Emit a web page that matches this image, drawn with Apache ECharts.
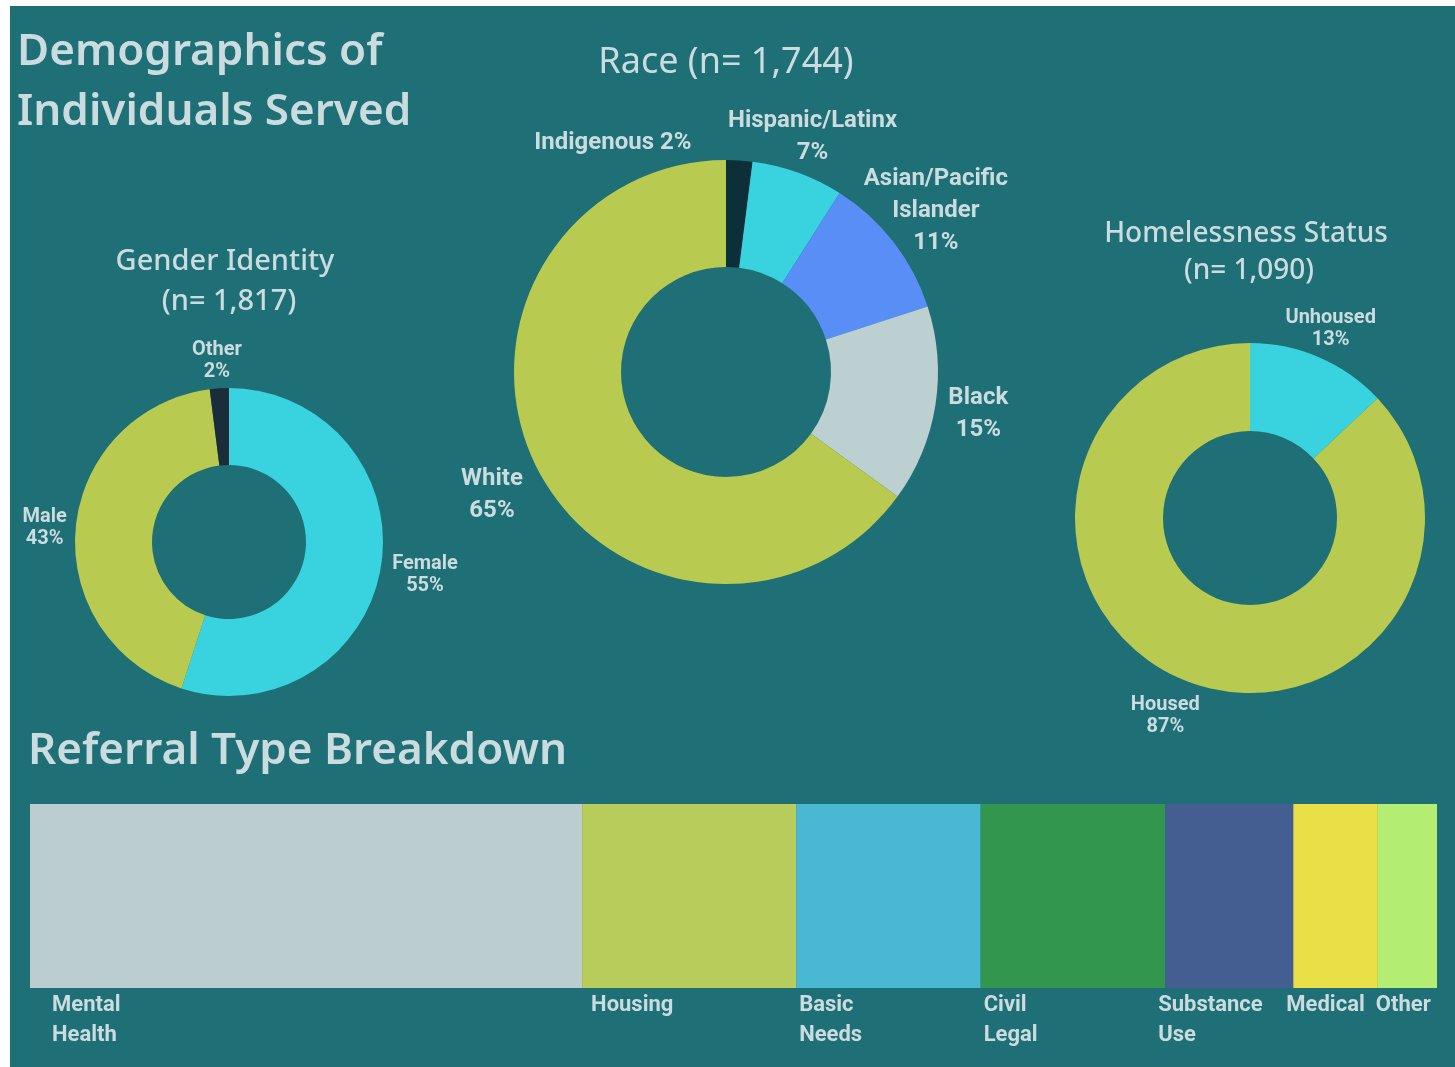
<!DOCTYPE html>
<html>
<head>
<meta charset="utf-8">
<title>Demographics of Individuals Served</title>
<script src="https://cdn.jsdelivr.net/npm/echarts@6/dist/echarts.min.js"></script>
<style>
  html, body { margin: 0; padding: 0; background: #ffffff; }
  #chart { width: 1455px; height: 1067px; }
</style>
</head>
<body>
<div id="chart"></div>
<script>
// gender identity (n = 1,817), percent of individuals
const genderNames = ['Female', 'Male', 'Other'];
const genderValues = [55, 43, 2];

// race (n = 1,744)
const raceNames = ['Indigenous', 'Hispanic/Latinx', 'Asian/Pacific Islander', 'Black', 'White'];
const raceValues = [2, 7, 11, 15, 65];

// homelessness status (n = 1,090)
const housingNames = ['Unhoused', 'Housed'];
const housingValues = [13, 87];

// referral type breakdown, share of referrals (%)
const referralTypes = ['Mental Health', 'Housing', 'Basic Needs', 'Civil Legal', 'Substance Use', 'Medical', 'Other'];
const referralShares = [39.2, 15.2, 13.1, 13.1, 9.1, 6.0, 4.2];

const BG = '#1f6f76';
const TEXT = '#cadcdf';
const LABEL_FONT = 'Roboto, "Noto Sans", sans-serif';
const TITLE_FONT = '"Noto Sans", "Open Sans", sans-serif';

const genderColors = ['#38d3df', '#b8cb50', '#1b2d3a'];
const raceColors = ['#0d2f3a', '#38d3df', '#5a8ef7', '#bccfd1', '#b8cb50'];
const housingColors = ['#38d3df', '#b8cb50'];
const referralColors = ['#bccdd0', '#b8cc5c', '#4ab8d4', '#32964f', '#445e92', '#ebdf47', '#b3ee72'];

const pctLabel = p => p.name === 'Indigenous'
  ? p.name + ' ' + p.value + '%'
  : p.name.replace('Pacific ', 'Pacific\n') + '\n' + p.value + '%';

// move each label from its default anchor by a small nudge, and center its lines
const nudgeLabels = nudges => p => {
  const r = p.labelRect;
  const n = nudges[p.dataIndex] || [0, 0];
  const anchor = p.align === 'right' ? r.x + r.width : (p.align === 'center' ? r.x + r.width / 2 : r.x);
  return {
    x: anchor + n[0],
    y: r.y + r.height / 2 + n[1],
    align: 'center',
    verticalAlign: 'middle'
  };
};

const donut = (names, values, colors, center, radius, fontSize, lineHeight, nudges) => ({
  type: 'pie',
  center: center,
  radius: radius,
  startAngle: 90,
  clockwise: true,
  avoidLabelOverlap: false,
  silent: true,
  data: names.map((n, i) => ({ name: n, value: values[i], itemStyle: { color: colors[i] } })),
  itemStyle: { borderWidth: 0 },
  label: {
    show: true,
    position: 'outside',
    formatter: pctLabel,
    color: TEXT,
    fontFamily: LABEL_FONT,
    fontWeight: 'bold',
    fontSize: fontSize,
    lineHeight: lineHeight
  },
  labelLine: { show: false, length: 8, length2: 0 },
  labelLayout: nudgeLabels(nudges)
});

const titleText = (text, x, y, size, weight, align) => ({
  type: 'text',
  x: x,
  y: y,
  silent: true,
  style: {
    text: text,
    fill: TEXT,
    font: weight + ' ' + size + 'px ' + TITLE_FONT,
    textAlign: align || 'center',
    textVerticalAlign: 'middle'
  }
});

const labelOffsets = [22, 9, 3, 3, -7, -7, -2];

const chart = echarts.init(document.getElementById('chart'));
chart.setOption({
  backgroundColor: '#ffffff',
  animation: false,
  graphic: [
    { type: 'rect', z: -10, silent: true, shape: { x: 10, y: 6, width: 1445, height: 1061 }, style: { fill: BG } },
    titleText('Demographics of', 17, 52, 44, 600, 'left'),
    titleText('Individuals Served', 17, 112, 44, 600, 'left'),
    titleText('Race (n= 1,744)', 726, 63, 36, 400),
    titleText('Gender Identity', 225, 262, 29, 500),
    titleText('(n= 1,817)', 229, 302, 29, 500),
    titleText('Homelessness Status', 1246, 234, 28, 500),
    titleText('(n= 1,090)', 1249, 271, 28, 500),
    titleText('Referral Type Breakdown', 28, 751, 44, 600, 'left')
  ],
  grid: { left: 30, right: 18, top: 804, height: 184 },
  xAxis: { type: 'value', min: 0, max: referralShares.reduce((a, b) => a + b, 0), show: false },
  yAxis: { type: 'category', data: ['Referrals'], show: false },
  series: [
    donut(genderNames, genderValues, genderColors, [229, 542], [77, 154], 20, 22,
      [[31, 8], [-18, 1], [3, -19]]),
    donut(raceNames, raceValues, raceColors, [726, 372], [105, 212], 24, 32,
      [[-132, -9], [7, -28], [31, -26], [30, 8], [-33, 23]]),
    donut(housingNames, housingValues, housingColors, [1250, 518], [87, 175], 20, 22,
      [[3, -21], [-7, 30]])
  ].concat(referralTypes.map((name, i) => ({
    type: 'bar',
    name: name,
    stack: 'referrals',
    barWidth: '100%',
    silent: true,
    data: [referralShares[i]],
    itemStyle: { color: referralColors[i] },
    label: {
      show: true,
      position: [labelOffsets[i], '100%'],
      distance: 0,
      align: 'left',
      verticalAlign: 'top',
      padding: [2, 0, 0, 0],
      formatter: p => p.seriesName.replace(' ', '\n'),
      color: TEXT,
      fontFamily: LABEL_FONT,
      fontWeight: 'bold',
      fontSize: 22,
      lineHeight: 30
    }
  })))
});
</script>
</body>
</html>
